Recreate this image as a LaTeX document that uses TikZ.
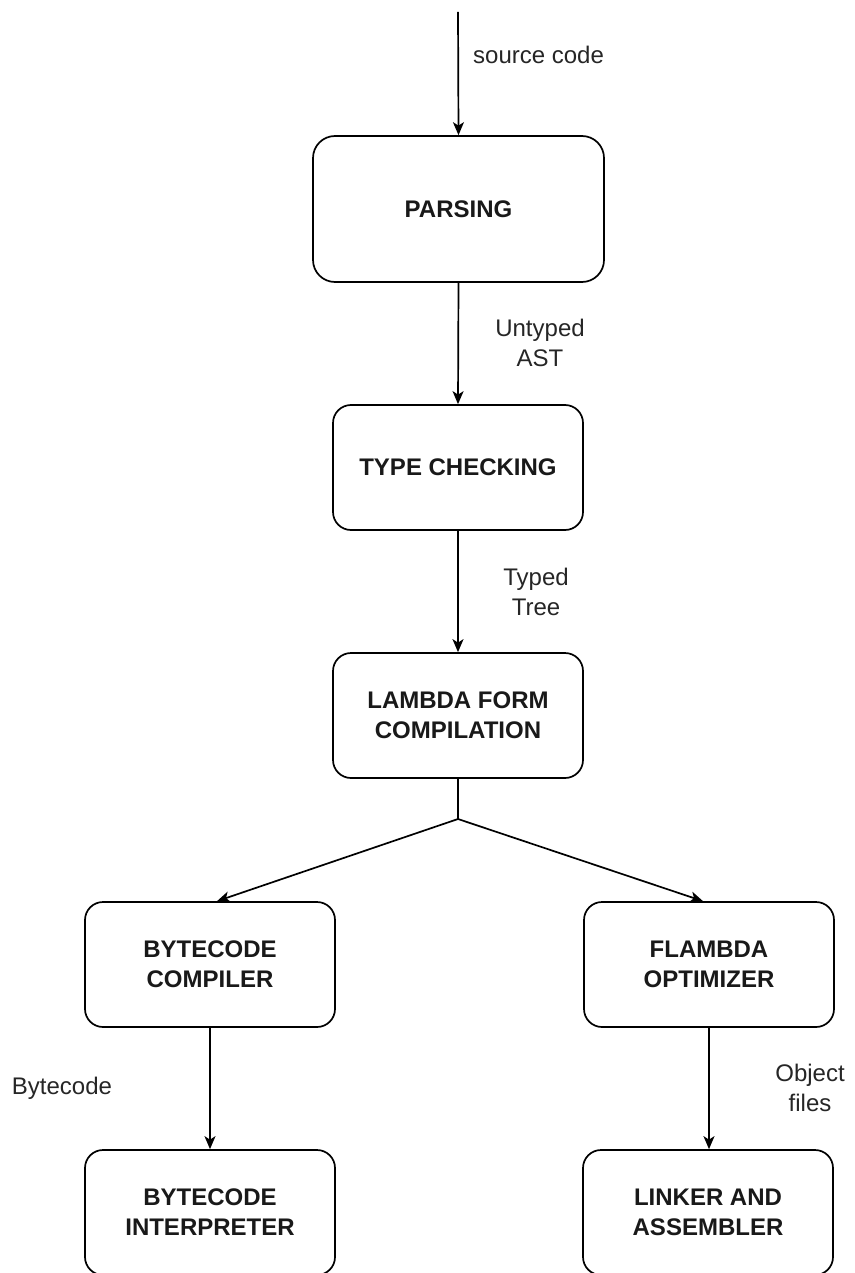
\documentclass[tikz,border=0pt]{standalone}
\usepackage{fontspec}
\setmainfont{Liberation Sans}
\usetikzlibrary{arrows.meta,calc}
\tikzset{
  stagebox/.style={draw=black, line width=1.7pt, rounded corners=18pt, minimum width=250pt, minimum height=125pt,
    align=center, inner sep=0pt, font=\fontsize{24}{30}\selectfont\bfseries, text=black!90},
  flow/.style={draw=black, line width=1.7pt, -{Stealth[length=13pt,width=11pt,inset=3.5pt]}},
  plainline/.style={draw=black, line width=1.7pt},
  lbl/.style={align=center, inner sep=0pt, font=\fontsize{24}{30}\selectfont, text=black!85}
}
\begin{document}
\begin{tikzpicture}[x=1pt,y=-1pt]
\clip (0,0) rectangle (854,1273);
\fill[white] (0,0) rectangle (854,1273);

\node[stagebox, minimum width=291pt, minimum height=146pt, rounded corners=22pt] (parse) at (458.5,209) {PARSING};
\node[stagebox] (type) at (458,467.5) {TYPE CHECKING};
\node[stagebox] (lambda) at (458,715.5) {LAMBDA FORM\\COMPILATION};
\node[stagebox] (bcc) at (210,964.5) {BYTECODE\\COMPILER};
\node[stagebox] (flam) at (709,964.5) {FLAMBDA\\OPTIMIZER};
\node[stagebox] (bci) at (210,1212.5) {BYTECODE\\INTERPRETER};
\node[stagebox] (link) at (708,1212.5) {LINKER AND\\ASSEMBLER};

\coordinate (src) at (458,12);
\coordinate (split) at (458,819);

\draw[flow] (src) -- (parse.north);
\draw[flow] (parse.south) -- (type.north);
\draw[flow] (type.south) -- (lambda.north);
\draw[plainline] (lambda.south) -- (split);
\draw[flow] (split) -- ($(bcc.north)+(7,0)$);
\draw[flow] (split) -- ($(flam.north)+(-6,0)$);
\draw[flow] (bcc.south) -- (bci.north);
\draw[flow] (flam.south) -- (flam.south |- link.north);

\node[lbl, anchor=west] (lsrc) at (473,55) {source code};
\node[lbl] (luntyped) at (540,343) {Untyped\\AST};
\node[lbl] (ltyped) at (536,592) {Typed\\Tree};
\node[lbl] (lbyte) at (62,1088) {Bytecode};
\node[lbl] (lobj) at (810,1088) {Object\\files};
\end{tikzpicture}
\end{document}
